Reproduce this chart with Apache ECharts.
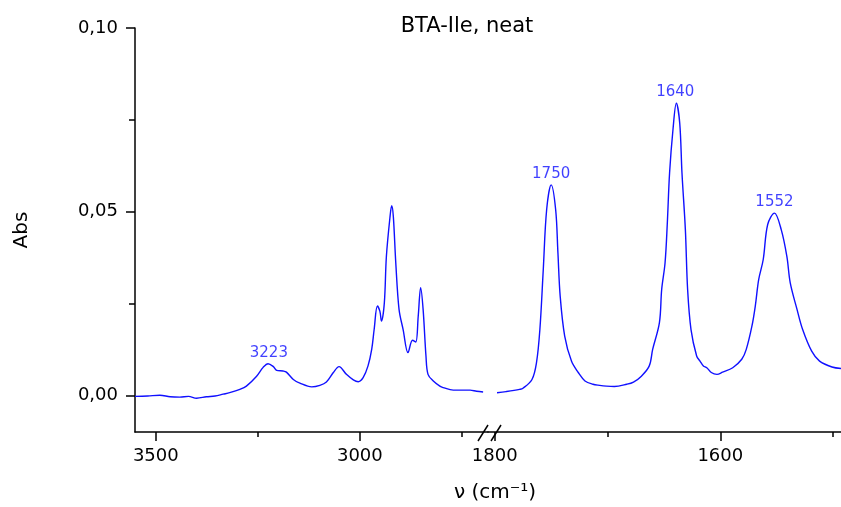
<!DOCTYPE html>
<html>
<head>
<meta charset="utf-8">
<script src="https://cdn.jsdelivr.net/npm/echarts@6/dist/echarts.min.js"></script>
<style>
  html, body { margin: 0; padding: 0; background: #fff; }
  #chartContainer { width: 841px; height: 507px; }
</style>
</head>
<body>
<div id="chartContainer"></div>
<script>
// FTIR spectrum; two x ranges with a break between them

// high wavenumber part (cm-1) and absorbance
const wnHigh = [3551, 3520, 3490, 3465, 3441, 3420, 3400, 3376, 3355, 3335, 3319, 3294, 3278, 3253, 3237,
  3225, 3212, 3204, 3188, 3180, 3163, 3147, 3118, 3098, 3082, 3065, 3051, 3033, 3016, 3004,
  2992, 2980, 2971, 2965, 2957, 2951, 2947, 2940, 2935, 2926, 2922, 2918, 2912, 2904, 2894,
  2882, 2871, 2863, 2857, 2851, 2845, 2838, 2833, 2820, 2804, 2796, 2771, 2747, 2730, 2714, 2698];
const absHigh = [-0.0003, -0.0002, 0.0000, -0.0004, -0.0005, -0.0003, -0.0008, -0.0004, -0.0002, 0.0003, 0.0007, 0.0016, 0.0025, 0.0052, 0.0076,
  0.0086, 0.0078, 0.0068, 0.0066, 0.0063, 0.0043, 0.0033, 0.0023, 0.0027, 0.0036, 0.0062, 0.0078, 0.0057, 0.0042, 0.0037,
  0.0048, 0.0080, 0.0125, 0.0179, 0.0243, 0.0229, 0.0202, 0.0252, 0.0378, 0.0487, 0.0516, 0.0487, 0.0361, 0.0234, 0.0179,
  0.0116, 0.0150, 0.0145, 0.0215, 0.0293, 0.0234, 0.0107, 0.0057, 0.0039, 0.0025, 0.0021, 0.0014, 0.0014, 0.0014, 0.0011, 0.0009];

// low wavenumber part
const wnLow = [1798, 1790, 1778, 1775, 1767, 1763, 1760, 1757, 1754, 1750, 1746, 1744, 1742, 1738, 1732,
  1726, 1720, 1713, 1707, 1701, 1694, 1683, 1677, 1670, 1663, 1660, 1654, 1652, 1649, 1647,
  1645, 1642, 1639, 1636, 1634, 1631, 1629, 1626, 1621, 1618, 1615, 1612, 1608, 1603, 1598,
  1589, 1581, 1577, 1572, 1569, 1566, 1562, 1558, 1552, 1546, 1541, 1538, 1532, 1527, 1519,
  1512, 1501, 1493];
const absLow = [0.0007, 0.0010, 0.0016, 0.0019, 0.0043, 0.0089, 0.0179, 0.0342, 0.0505, 0.0573, 0.0505, 0.0388, 0.0270, 0.0161, 0.0093,
  0.0062, 0.0039, 0.0030, 0.0027, 0.0025, 0.0024, 0.0030, 0.0036, 0.0052, 0.0080, 0.0125, 0.0198, 0.0288, 0.0361, 0.0469,
  0.0605, 0.0723, 0.0795, 0.0741, 0.0605, 0.0451, 0.0288, 0.0179, 0.0107, 0.0093, 0.0080, 0.0075, 0.0062, 0.0057, 0.0063,
  0.0075, 0.0098, 0.0125, 0.0188, 0.0243, 0.0315, 0.0369, 0.0465, 0.0496, 0.0451, 0.0378, 0.0306, 0.0234, 0.0179, 0.0120,
  0.0093, 0.0077, 0.0073];

// labelled peaks
const peakWn = [3223, 1750, 1640, 1552];
const peakAbs = [0.0087, 0.0573, 0.0796, 0.0497];

// tick values
const ticksHigh = [3500, 3000];
const minorHigh = [3250, 2750];
const ticksLow = [1800, 1600];
const minorLow = [1700, 1500];
const ticksY = [0, 0.05, 0.10];
const minorY = [0.025, 0.075];

const blue = '#1010ff';
const font = 'DejaVu Sans';

var myChart = echarts.init(document.getElementById('chartContainer'), null, { renderer: 'canvas' });

function zip(xs, ys) {
    return xs.map(function (x, i) { return [x, ys[i]]; });
}

function peaks(inHigh) {
    const out = [];
    peakWn.forEach(function (w, i) {
        if ((w > 2000) === inHigh) out.push({ value: [w, peakAbs[i]], name: String(w) });
    });
    return out;
}

function xAxis(grid, min, max, ticks, minor) {
    const line = { show: true, onZero: false, lineStyle: { color: '#000', width: 1.5 } };
    return [{
        gridIndex: grid, type: 'value', inverse: true, min: min, max: max, position: 'bottom',
        axisLine: line,
        axisTick: { show: true, length: 9, lineStyle: { color: '#000', width: 1.5 }, customValues: ticks },
        axisLabel: {
            show: true, margin: 15, color: '#000', fontFamily: font, fontSize: 18, customValues: ticks,
            formatter: function (v) { return String(v); }
        },
        splitLine: { show: false }
    }, {
        gridIndex: grid, type: 'value', inverse: true, min: min, max: max, position: 'bottom',
        axisLine: { show: false, onZero: false },
        axisTick: { show: true, length: 5, lineStyle: { color: '#000', width: 1.5 }, customValues: minor },
        axisLabel: { show: false },
        splitLine: { show: false }
    }];
}

let options = {
    animation: false,
    backgroundColor: '#fff',
    title: [{
        text: 'BTA-Ile, neat',
        left: 462, top: 11, textAlign: 'center',
        textStyle: { color: '#000', fontFamily: font, fontSize: 21, fontWeight: 'normal' }
    }, {
        text: 'ν (cm⁻¹)',
        left: 490, top: 478, textAlign: 'center',
        textStyle: { color: '#000', fontFamily: font, fontSize: 20, fontWeight: 'normal' }
    }],
    grid: [
        { left: 135, top: 28, width: 353, bottom: 75 },
        { left: 488, top: 28, right: 0, bottom: 75 }
    ],
    xAxis: xAxis(0, 2686, 3551, ticksHigh, minorHigh).concat(xAxis(1, 1493, 1806, ticksLow, minorLow)),
    yAxis: [{
        gridIndex: 0, type: 'value', min: -0.01, max: 0.10, position: 'left',
        name: 'Abs', nameLocation: 'middle', nameRotate: 90, nameGap: 103,
        nameTextStyle: { color: '#000', fontFamily: font, fontSize: 20 },
        axisLine: { show: true, onZero: false, lineStyle: { color: '#000', width: 1.5 } },
        axisTick: { show: true, length: 9, lineStyle: { color: '#000', width: 1.5 }, customValues: ticksY },
        axisLabel: {
            show: true, margin: 17, color: '#000', fontFamily: font, fontSize: 18, customValues: ticksY,
            formatter: function (v) { return v.toFixed(2).replace('.', ','); }
        },
        splitLine: { show: false }
    }, {
        gridIndex: 0, type: 'value', min: -0.01, max: 0.10, position: 'left',
        axisLine: { show: false, onZero: false },
        axisTick: { show: true, length: 6, lineStyle: { color: '#000', width: 1.5 }, customValues: minorY },
        axisLabel: { show: false },
        splitLine: { show: false }
    }, {
        gridIndex: 1, type: 'value', min: -0.01, max: 0.10, show: false
    }],
    graphic: [
        { type: 'line', shape: { x1: 478, y1: 441, x2: 488, y2: 425 }, style: { stroke: '#000', lineWidth: 1.5 }, z: 100 },
        { type: 'line', shape: { x1: 491, y1: 441, x2: 501, y2: 425 }, style: { stroke: '#000', lineWidth: 1.5 }, z: 100 }
    ],
    series: [{
        type: 'line', xAxisIndex: 0, yAxisIndex: 0,
        data: zip(wnHigh, absHigh), showSymbol: false, smooth: 0.35,
        lineStyle: { color: blue, width: 1.4 }
    }, {
        type: 'line', xAxisIndex: 2, yAxisIndex: 2,
        data: zip(wnLow, absLow), showSymbol: false, smooth: 0.35,
        lineStyle: { color: blue, width: 1.4 }
    }, {
        type: 'scatter', xAxisIndex: 0, yAxisIndex: 0, symbolSize: 0,
        data: peaks(true),
        label: { show: true, position: 'top', distance: 3, formatter: '{b}', color: blue, fontFamily: font, fontSize: 15 }
    }, {
        type: 'scatter', xAxisIndex: 2, yAxisIndex: 2, symbolSize: 0,
        data: peaks(false),
        label: { show: true, position: 'top', distance: 3, formatter: '{b}', color: blue, fontFamily: font, fontSize: 15 }
    }]
};

myChart.setOption(options);
</script>
</body>
</html>
